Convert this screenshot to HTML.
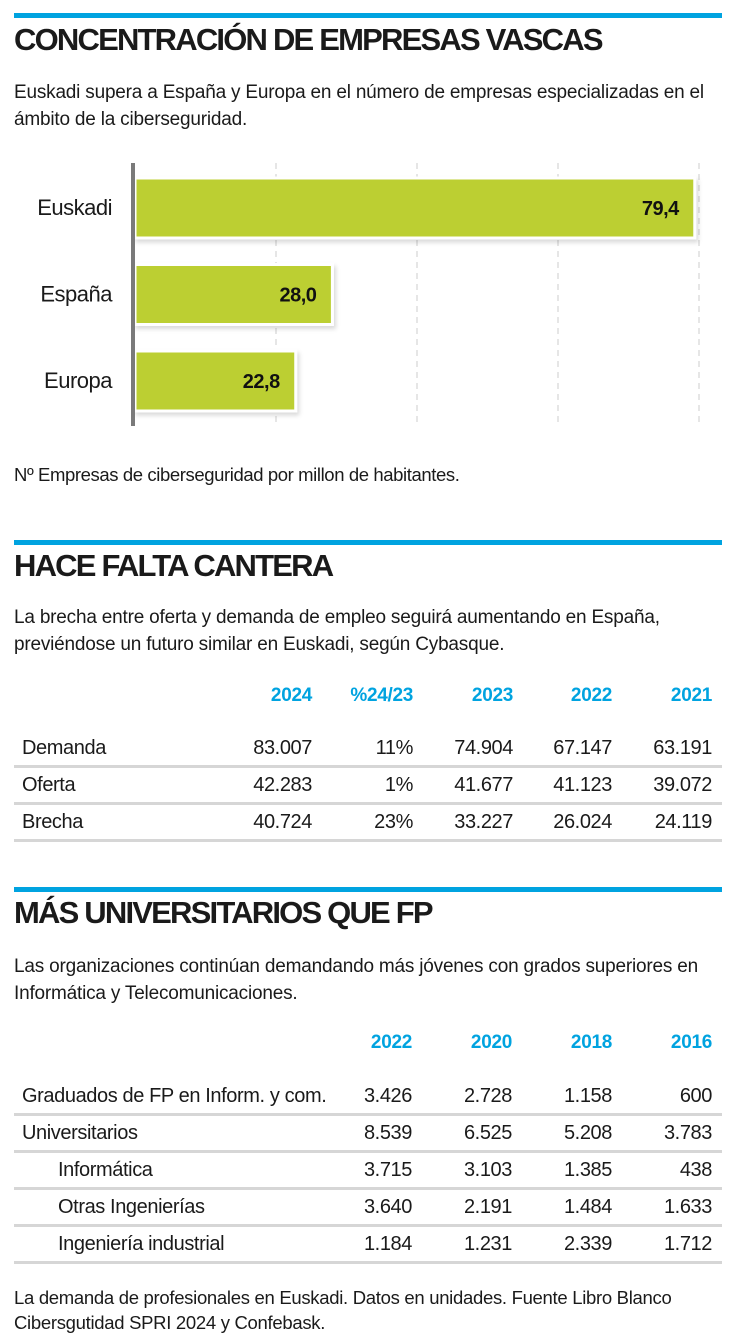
<!DOCTYPE html>
<html><head><meta charset="utf-8">
<style>
body{margin:0;width:736px;height:1344px;background:#fff;font-family:"Liberation Sans Narrow","Liberation Sans",sans-serif;color:#1a1a1a;position:relative;overflow:hidden}
.bar-top{position:absolute;left:14px;width:708px;height:5px;background:#00a3e0}
h1{position:absolute;left:14px;margin:0;font-size:31px;font-weight:bold;letter-spacing:-1.8px;color:#1a1a1a}
p{position:absolute;left:14px;margin:0;font-size:19px;line-height:27px;width:712px;letter-spacing:-0.2px}
.t{position:absolute;font-size:20px;letter-spacing:-0.4px}
.hd{position:absolute;font-size:19px;font-weight:bold;color:#00a3e0;text-align:right;letter-spacing:-0.3px}
.sep{position:absolute;left:14px;width:708px;height:3px;background:#d6d6d6}
.r{text-align:right}
</style></head><body>
<div class="bar-top" style="top:13px"></div>
<h1 style="top:22px">CONCENTRACIÓN DE EMPRESAS VASCAS</h1>
<p style="top:79px">Euskadi supera a España y Europa en el número de empresas especializadas en el ámbito de la ciberseguridad.</p>
<svg id="chart" style="position:absolute;left:0;top:150px" width="736" height="290">
<defs><filter id="sh" x="-5%" y="-10%" width="110%" height="130%"><feDropShadow dx="2" dy="3" stdDeviation="2" flood-color="#000" flood-opacity="0.15"/></filter></defs>
</svg>
<p style="top:461px;font-size:18.5px;letter-spacing:-0.4px">Nº Empresas de ciberseguridad por millon de habitantes.</p>

<div class="bar-top" style="top:540px"></div>
<h1 style="top:548px">HACE FALTA CANTERA</h1>
<p style="top:604px">La brecha entre oferta y demanda de empleo seguirá aumentando en España, previéndose un futuro similar en Euskadi, según Cybasque.</p>
<div id="t1"></div>

<div class="bar-top" style="top:887px"></div>
<h1 style="top:895px">MÁS UNIVERSITARIOS QUE FP</h1>
<p style="top:953px">Las organizaciones continúan demandando más jóvenes con grados superiores en Informática y Telecomunicaciones.</p>
<div id="t2"></div>
<p style="top:1285px;font-size:18.5px;line-height:25px;letter-spacing:-0.3px">La demanda de profesionales en Euskadi. Datos en unidades. Fuente Libro Blanco Cibersgutidad SPRI 2024 y Confebask.</p>

<script>
const categories=["Euskadi","España","Europa"];
const values=[79.4,28.0,22.8];
const valueLabels=["79,4","28,0","22,8"];
const gridTicks=[20,40,60,80];

const t1Headers=["2024","%24/23","2023","2022","2021"];
const t1Rows=["Demanda","Oferta","Brecha"];
const t1Values=[["83.007","11%","74.904","67.147","63.191"],["42.283","1%","41.677","41.123","39.072"],["40.724","23%","33.227","26.024","24.119"]];
const t2Headers=["2022","2020","2018","2016"];
const t2Rows=["Graduados de FP en Inform. y com.","Universitarios","Informática","Otras Ingenierías","Ingeniería industrial"];
const t2Indent=[false,false,true,true,true];
const t2Values=[["3.426","2.728","1.158","600"],["8.539","6.525","5.208","3.783"],["3.715","3.103","1.385","438"],["3.640","2.191","1.484","1.633"],["1.184","1.231","2.339","1.712"]];

const NS="http://www.w3.org/2000/svg";
const svg=document.getElementById('chart');
const x0=135, xs=(699-135)/80;
const X=v=>x0+v*xs;
const Y=i=>28+i*86.5;
function mk(t,a){const e=document.createElementNS(NS,t);for(const k in a)e.setAttribute(k,a[k]);svg.appendChild(e);return e;}
gridTicks.forEach(v=>{
  const l=mk('line',{x1:X(v),x2:X(v),y1:13,y2:276,stroke:'#ccc','stroke-width':1,'stroke-dasharray':'6,5'});
  
  
});
categories.forEach((c,i)=>{
  const r=mk('rect',{x:x0,y:Y(i),width:X(values[i])-x0,height:60,fill:'#bccf32',stroke:'#fff','stroke-width':3,filter:'url(#sh)'});
  
  
  const lb=mk('text',{x:112,y:Y(i)+37,'text-anchor':'end','font-size':22,fill:'#1a1a1a','letter-spacing':'-0.5'});
  lb.textContent=c;
  
  
  const vl=mk('text',{x:X(values[i])-16,y:Y(i)+37,'text-anchor':'end','font-size':20,'font-weight':'bold',fill:'#111','letter-spacing':'-0.5'});
  vl.textContent=valueLabels[i];
  
  
});
const ax=mk('rect',{x:131,y:13,width:4,height:263,fill:'#7a7a7a'});



function table(id,headers,rights,hy,rows,indent,vals,ry,step){
  const c=document.getElementById(id);let h='';
  headers.forEach((t,j)=>{h+=`<div class="hd" style="top:${hy}px;left:${rights[j]-120}px;width:120px">${t}</div>`;});
  rows.forEach((r,i)=>{
    const y=ry+i*step;
    h+=`<div class="t" style="top:${y}px;left:${indent[i]?58:22}px">${r}</div>`;
    vals[i].forEach((v,j)=>{h+=`<div class="t r" style="top:${y}px;left:${rights[j]-120}px;width:120px">${v}</div>`;});
    h+=`<div class="sep" style="top:${y+28}px"></div>`;
  });
  c.innerHTML=h;
}
table('t1',t1Headers,[312,413,513,612,712],685,t1Rows,[false,false,false],t1Values,737,37);
table('t2',t2Headers,[412,512,612,712],1032,t2Rows,t2Indent,t2Values,1085,37);
</script>
</body></html>
